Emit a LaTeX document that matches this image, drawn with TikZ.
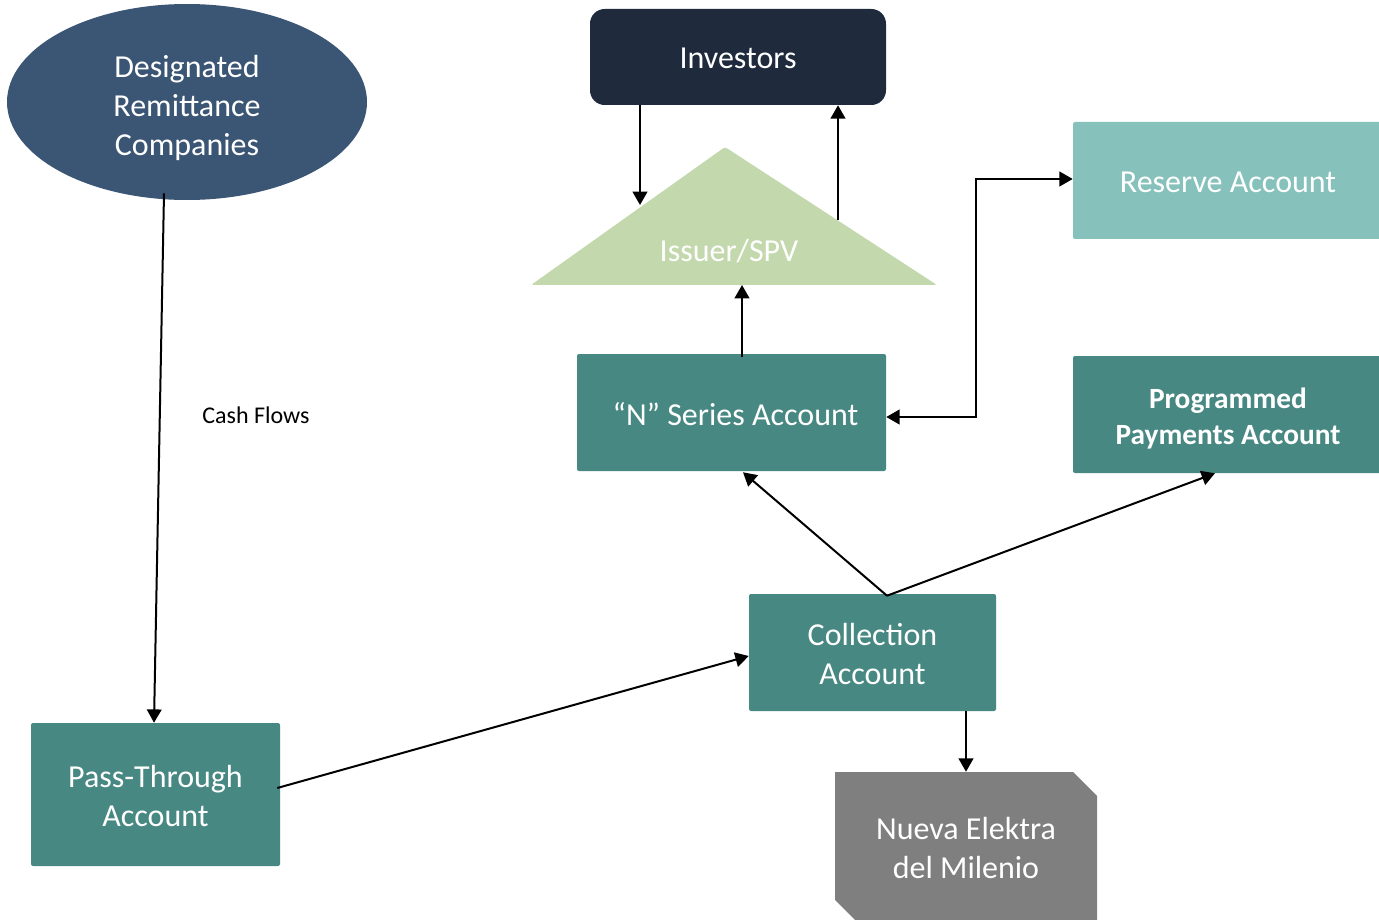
\documentclass[tikz,border=0pt]{standalone}
\usepackage{fontspec}
\setmainfont{Carlito}
\usetikzlibrary{shapes.geometric,shapes.misc,arrows.meta,calc}

\definecolor{drcblue}{RGB}{59,85,116}
\definecolor{invnavy}{RGB}{31,42,60}
\definecolor{issuergreen}{RGB}{195,216,173}
\definecolor{reserveteal}{RGB}{134,193,187}
\definecolor{acctteal}{RGB}{72,136,130}
\definecolor{nuevagrey}{RGB}{127,127,127}

\tikzset{
  px/.style={x=0.75pt,y=-0.75pt},
  big/.style={font=\fontsize{24}{29.25}\selectfont},
  lbl/.style={text=white,align=center,inner sep=0pt},
  acct/.style={rectangle,rounded corners=1.5pt,fill=acctteal,text=white,
    align=center,big,inner sep=0pt},
  arr/.style={line width=1.5pt,-{Triangle[length=10pt,width=11pt]}},
  arrboth/.style={line width=1.5pt,{Triangle[length=10pt,width=11pt]}-{Triangle[length=10pt,width=11pt]}},
}

\begin{document}
\begin{tikzpicture}[px]
\clip (0,0) rectangle (1379,920);

% sources and investors
\node[ellipse,fill=drcblue,inner sep=0pt,
  minimum width=270pt,minimum height=147pt,
  label={[lbl,big,yshift=-4.5pt]center:{Designated\\Remittance\\Companies}}]
  (drc) at (187,102) {};
\node[rectangle,rounded corners=11pt,fill=invnavy,inner sep=0pt,
  minimum width=222pt,minimum height=72pt,
  label={[lbl,big,yshift=-0.75pt]center:Investors}] (inv) at (738,57) {};

% issuer triangle
\fill[issuergreen,rounded corners=2pt] (531,285) -- (725,147) -- (937,285) -- cycle;
\node[text=white,big] (issuer) at (729,251) {Issuer/SPV};
\coordinate (issL) at (640,205);
\coordinate (issR) at (838,220);
\coordinate (issB) at (742,285);

% accounts
\node[acct,fill=reserveteal,minimum width=232.5pt,minimum height=87.75pt,
  label={[lbl,big,yshift=-1.5pt]center:Reserve Account}]
  (res) at (1228,180.5) {};
\node[acct,minimum width=231.75pt,minimum height=87.75pt,
  label={[lbl,big,yshift=-1.5pt,xshift=3pt]center:“N” Series Account}]
  (nser) at (731.5,412.5) {};
\node[acct,minimum width=232.5pt,minimum height=87.75pt,
  label={[lbl,font=\fontsize{22}{27}\selectfont\bfseries,yshift=-3pt]center:{Programmed\\Payments Account}}]
  (prog) at (1228,414.5) {};
\node[acct,minimum width=185.25pt,minimum height=87.75pt,
  label={[lbl,big,yshift=-1.5pt]center:{Collection\\Account}}]
  (coll) at (872.5,652.5) {};
\node[acct,minimum width=186.75pt,minimum height=107.25pt,
  label={[lbl,big,yshift=-1.5pt]center:{Pass-Through\\Account}}]
  (pass) at (155.5,794.5) {};
\node[chamfered rectangle,chamfered rectangle corners={north east,south west},
  chamfered rectangle xsep=9pt,chamfered rectangle ysep=9pt,
  fill=nuevagrey,text=white,align=center,big,inner sep=0pt,
  minimum width=196.5pt,minimum height=114pt] (nueva) at (966,848)
  {Nueva Elektra\\del Milenio};

\node[font=\fontsize{18}{22}\selectfont] (cash) at (256,415) {Cash Flows};

% connectors
\draw[arr] ($(drc.south)+(-23,-7)$) -- ($(pass.north)+(-1.5,0)$);
\draw[arr] ($(pass.east)+(-3,-6.5)$) -- ($(coll.west)+(0,3.5)$);
\coordinate (split) at ($(coll.north)+(14.5,2)$);
\draw[arr] (split) -- ($(nser.south)+(11.5,1)$);
\draw[arr] (split) -- ($(prog.south)+(-13,0)$);
\draw[arr] (coll.south -| nueva.north) -- (nueva.north);
\draw[arr] ($(nser.north)+(10.5,3)$) -- (issB);
\draw[arr] (inv.south -| issL) -- (issL);
\draw[arr] (issR) -- (inv.south -| issR);
\draw[arrboth] ($(nser.east)+(0,4.5)$) -- ++(90,0) |- ($(res.west)+(0,-1.5)$);
\end{tikzpicture}
\end{document}
